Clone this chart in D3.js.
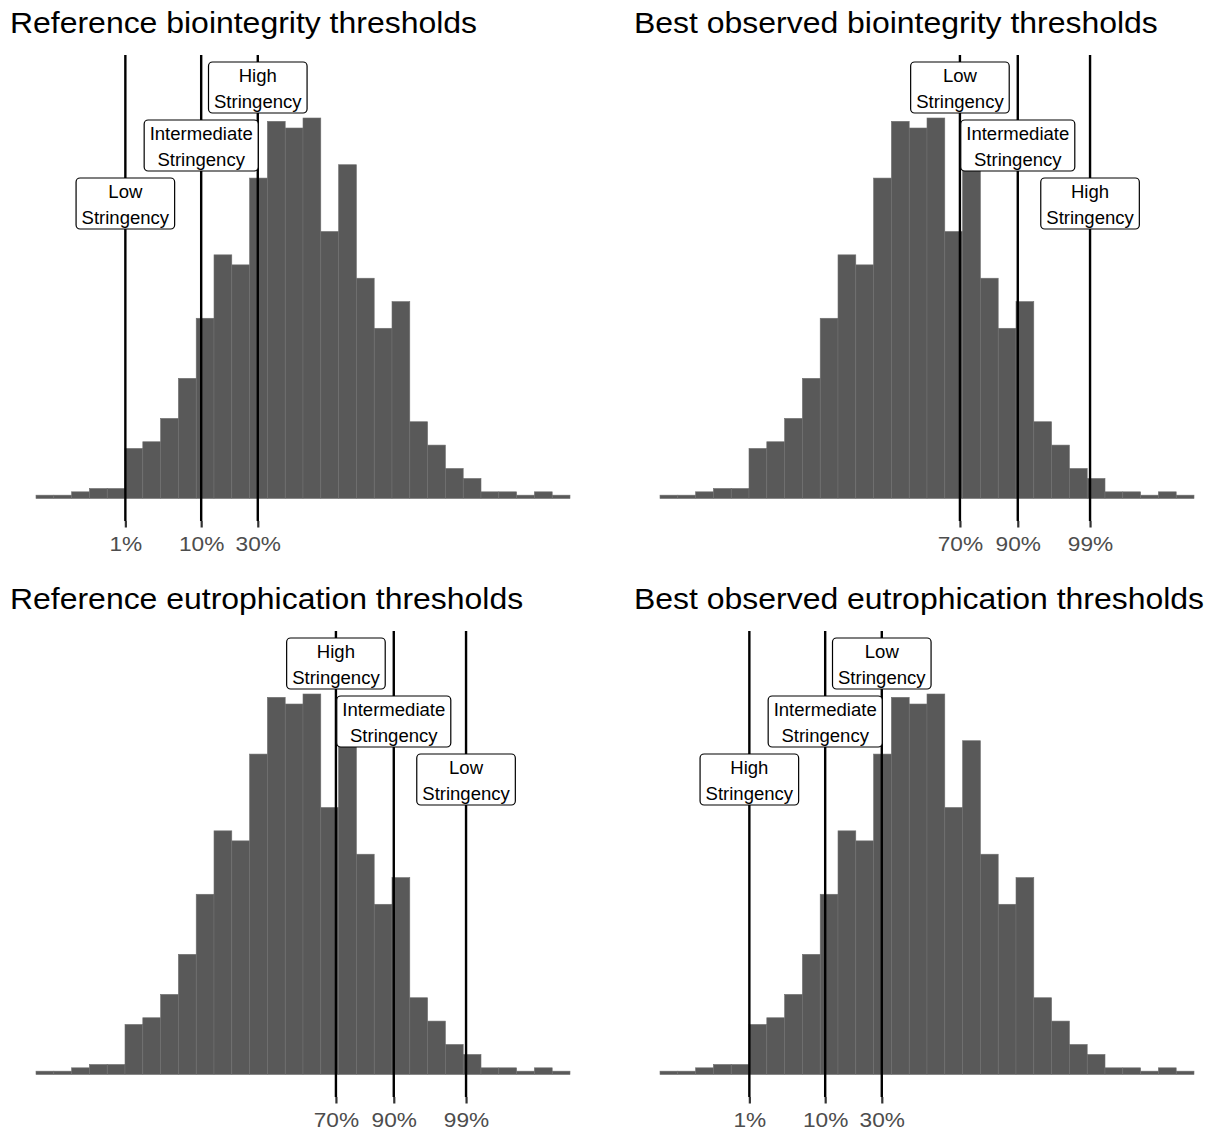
<!DOCTYPE html>
<html>
<head>
<meta charset="utf-8">
<script src="https://cdn.jsdelivr.net/npm/d3@7"></script>
<style>
  html, body { margin: 0; padding: 0; background: #ffffff; }
  svg { display: block; }
  text { font-family: "Liberation Sans", Arial, Helvetica, sans-serif; }
</style>
</head>
<body>
<div id="chart"></div>
<script>
// ---------------- DATA ----------------
const binIndex = [0,1,2,3,4,5,6,7,8,9,10,11,12,13,14,15,16,17,18,19,20,21,22,23,24,25,26,27,28,29];
const binCounts = [1,1,2,3,3,15,17,24,36,54,73,70,96,113,111,114,80,100,66,51,59,23,16,9,6,2,2,1,2,1];

const panelTitles = [
  "Reference biointegrity thresholds",
  "Best observed biointegrity thresholds",
  "Reference eutrophication thresholds",
  "Best observed eutrophication thresholds"
];

// threshold positions (in bin units) and their tick labels
const lowQuantilePos = [5.02, 9.28, 12.46];
const lowQuantileLabels = ["1%", "10%", "30%"];
const highQuantilePos = [16.85, 20.1, 24.16];
const highQuantileLabels = ["70%", "90%", "99%"];

// stringency names per threshold, per panel
const refBioStringency = ["Low", "Intermediate", "High"];      // 1%,10%,30%
const bestBioStringency = ["Low", "Intermediate", "High"];     // 70%,90%,99%
const refEutStringency = ["High", "Intermediate", "Low"];      // 70%,90%,99%
const bestEutStringency = ["High", "Intermediate", "Low"];     // 1%,10%,30%

// ---------------- LAYOUT ----------------
const W = 1214, H = 1132;
const svg = d3.select("#chart").append("svg")
  .attr("width", W).attr("height", H)
  .attr("viewBox", `0 0 ${W} ${H}`);
svg.append("rect").attr("width", W).attr("height", H).attr("fill", "#ffffff");

const colOffset = [0, 624];
const rowOffset = [0, 576];

const panels = [
  { title: panelTitles[0], pos: lowQuantilePos,  ticks: lowQuantileLabels,  names: refBioStringency,  tiers: [2,1,0], col: 0, row: 0 },
  { title: panelTitles[1], pos: highQuantilePos, ticks: highQuantileLabels, names: bestBioStringency, tiers: [0,1,2], col: 1, row: 0 },
  { title: panelTitles[2], pos: highQuantilePos, ticks: highQuantileLabels, names: refEutStringency,  tiers: [0,1,2], col: 0, row: 1 },
  { title: panelTitles[3], pos: lowQuantilePos,  ticks: lowQuantileLabels,  names: bestEutStringency, tiers: [2,1,0], col: 1, row: 1 }
];

const SX_TITLE = 1.065, SX_TICK = 1.08, SX_LABEL = 1.06;

function addText(g, str, x, y, size, fill, anchor, sx) {
  return g.append("text")
    .attr("transform", `translate(${x},${y}) scale(${sx},1)`)
    .attr("text-anchor", anchor)
    .attr("font-size", size)
    .attr("fill", fill)
    .text(str);
}

panels.forEach(p => {
  const ox = colOffset[p.col], oy = rowOffset[p.row];
  const g = svg.append("g").attr("transform", `translate(${ox},${oy})`);

  const x = d3.scaleLinear().domain([0, binIndex.length]).range([36, 570]);
  const y = d3.scaleLinear().domain([0, 114]).range([498.5, 118]);
  const panelTop = 55, panelBottom = 521;

  // title
  addText(g, p.title, 10, 32.5, 30, "#000000", "start", SX_TITLE);

  // histogram bars
  g.append("g").selectAll("rect")
    .data(binIndex)
    .join("rect")
    .attr("x", i => x(i))
    .attr("width", i => x(i + 1) - x(i))
    .attr("y", i => y(binCounts[i]))
    .attr("height", i => y(0) - y(binCounts[i]))
    .attr("fill", "#595959")
    .attr("stroke", "#707070")
    .attr("stroke-width", 0.6);

  // bottom axis (ticks + labels only)
  const axis = d3.axisBottom(x)
    .tickValues(p.pos)
    .tickFormat((d, i) => p.ticks[i])
    .tickSize(6.5)
    .tickSizeOuter(0);
  const ax = g.append("g").attr("transform", `translate(0,${panelBottom})`).call(axis);
  ax.select(".domain").remove();
  ax.selectAll(".tick line").attr("stroke", "#333333").attr("stroke-width", 2.2);
  ax.selectAll(".tick text").remove();
  ax.selectAll(".tick").each(function(d, i) {
    addText(d3.select(this), p.ticks[i], 0, 551 - panelBottom, 21, "#4D4D4D", "middle", SX_TICK);
  });

  // vertical threshold lines
  g.append("g").selectAll("line")
    .data(p.pos)
    .join("line")
    .attr("x1", d => x(d)).attr("x2", d => x(d))
    .attr("y1", panelTop).attr("y2", panelBottom)
    .attr("stroke", "#000000")
    .attr("stroke-width", 2.4);

  // labels
  const lg = g.append("g");
  p.pos.forEach((d, i) => {
    const cx = x(d);
    const top = 62 + p.tiers[i] * 58;
    const grp = lg.append("g");
    const rect = grp.append("rect")
      .attr("y", top).attr("height", 51)
      .attr("rx", 4).attr("ry", 4)
      .attr("fill", "#ffffff")
      .attr("stroke", "#000000")
      .attr("stroke-width", 1.2);
    const t1 = addText(grp, p.names[i], cx, top + 19.5, 17.5, "#000000", "middle", SX_LABEL);
    const t2 = addText(grp, "Stringency", cx, top + 46, 17.5, "#000000", "middle", SX_LABEL);
    const w = Math.max(t1.node().getComputedTextLength(), t2.node().getComputedTextLength()) * SX_LABEL + 11;
    rect.attr("x", cx - w / 2).attr("width", w);
  });
});
</script>
</body>
</html>
